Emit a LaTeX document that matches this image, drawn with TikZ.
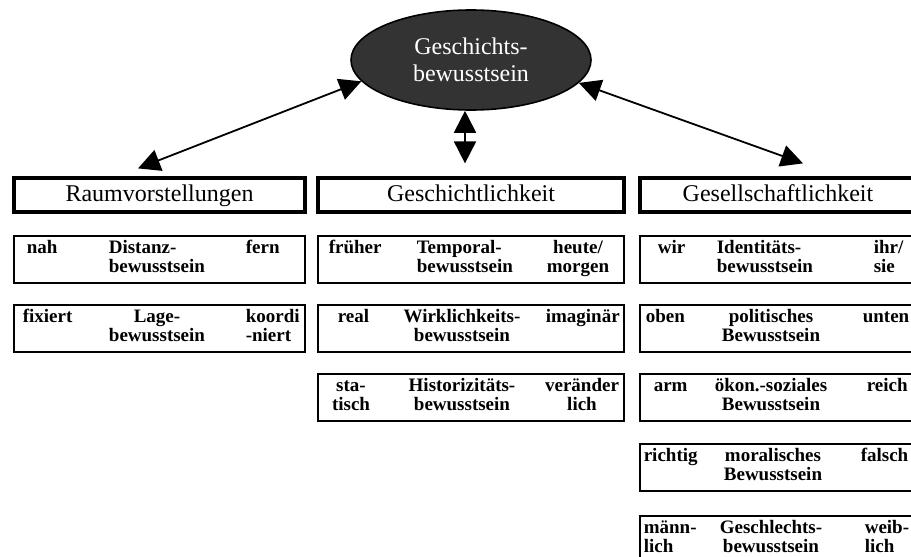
\documentclass[tikz,border=0pt]{standalone}
\usepackage{fontspec}
\setmainfont{Liberation Serif}
\usetikzlibrary{arrows.meta,shapes.geometric}

\begin{document}
\begin{tikzpicture}[x=.5pt,y=-.5pt,line width=.8pt,
  kopf/.style={draw,line width=1.6pt,inner sep=0pt,minimum height=17pt,
    font=\fontsize{12}{14}\selectfont,text height=8.5pt,text depth=2.5pt},
  feld/.style={draw,inner sep=0pt,minimum height=23.5pt},
  wort/.style={inner sep=0pt,text width=45pt,align=left,anchor=base west,
    font=\fontsize{9.5}{9.6}\selectfont\bfseries},
  wortm/.style={wort,align=center,anchor=base},
  mitte/.style={wort,text width=62pt},
  mittem/.style={mitte,align=center,anchor=base},
  pfeil/.style={line width=.9pt,
    {Triangle[length=11pt,width=11pt]}-{Triangle[length=11pt,width=11pt]}}]
  \useasboundingbox (0,0) rectangle (911,557);
  \clip (0,0) rectangle (911,557);

  \node[ellipse,draw,fill=black!80,text=white,inner sep=0pt,
    minimum width=120pt,minimum height=50pt,align=center,
    font=\fontsize{12}{13.5}\selectfont] (gb) at (471,60)
    {Geschichts-\\bewusstsein};

  \node[kopf,minimum width=145.5pt] (raum) at (159.5,195) {Raumvorstellungen};
  \node[kopf,minimum width=153pt] (zeit) at (471,195) {Geschichtlichkeit};
  \node[kopf,minimum width=138pt] (ges) at (778,195) {Gesellschaftlichkeit};

  \draw[pfeil] (gb.191.7) -- ([shift={(-21.5,-8)}]raum.north);
  \draw[pfeil] ([xshift=-3pt]gb.south) -- ([shift={(-6,-13)}]zeit.north);
  \draw[pfeil] (gb.348.3) -- ([shift={(25,-13)}]ges.north);

  % Raumvorstellungen
  \node[feld,minimum width=145.5pt] (r1) at (159.5,259.5) {};
  \node[wort] (r1a) at (26,253.5) {nah};
  \node[mitte] (r1b) at (108,253.5) {Distanz-\\bewusstsein};
  \node[wort] (r1c) at (245,253.5) {fern};

  \node[feld,minimum width=145.5pt] (r2) at (159.5,328.5) {};
  \node[wort] (r2a) at (22,322.5) {fixiert};
  \node[mittem] (r2b) at (157,322.5) {Lage-\\bewusstsein};
  \node[wort] (r2c) at (245,322.5) {koordi\\-niert};

  % Geschichtlichkeit
  \node[feld,minimum width=153pt] (z1) at (471,259.5) {};
  \node[wort] (z1a) at (328,253.5) {früher};
  \node[mitte] (z1b) at (416,253.5) {Temporal-\\bewusstsein};
  \node[wortm] (z1c) at (578,253.5) {heute/\\morgen};

  \node[feld,minimum width=153pt] (z2) at (471,328.5) {};
  \node[wort] (z2a) at (337,322.5) {real};
  \node[mittem] (z2b) at (462,322.5) {Wirklichkeits-\\bewusstsein};
  \node[wort] (z2c) at (545,322.5) {imaginär};

  \node[feld,minimum width=153pt] (z3) at (471,397.5) {};
  \node[wortm] (z3a) at (351,391.5) {sta-\\tisch};
  \node[mittem] (z3b) at (462,391.5) {Historizitäts-\\bewusstsein};
  \node[wortm] (z3c) at (582,391.5) {veränder\\lich};

  % Gesellschaftlichkeit
  \node[feld,minimum width=138pt] (s1) at (778,259.5) {};
  \node[wort] (s1a) at (657,253.5) {wir};
  \node[mitte] (s1b) at (716,253.5) {Identitäts-\\bewusstsein};
  \node[wort] (s1c) at (873,253.5) {ihr/\\sie};

  \node[feld,minimum width=138pt] (s2) at (778,328.5) {};
  \node[wort] (s2a) at (645,322.5) {oben};
  \node[mittem] (s2b) at (771,322.5) {politisches\\Bewusstsein};
  \node[wort] (s2c) at (862,322.5) {unten};

  \node[feld,minimum width=138pt] (s3) at (778,397.5) {};
  \node[wort] (s3a) at (653,391.5) {arm};
  \node[mittem] (s3b) at (771,391.5) {ökon.-soziales\\Bewusstsein};
  \node[wort] (s3c) at (866,391.5) {reich};

  \node[feld,minimum width=138pt] (s4) at (778,467.5) {};
  \node[wort] (s4a) at (643,461.5) {richtig};
  \node[mittem] (s4b) at (773,461.5) {moralisches\\Bewusstsein};
  \node[wort] (s4c) at (860,461.5) {falsch};

  \node[feld,minimum width=138pt] (s5) at (778,539.5) {};
  \node[wort] (s5a) at (643,533.5) {männ-\\lich};
  \node[mittem] (s5b) at (771,533.5) {Geschlechts-\\bewusstsein};
  \node[wort] (s5c) at (864,533.5) {weib-\\lich};
\end{tikzpicture}
\end{document}
